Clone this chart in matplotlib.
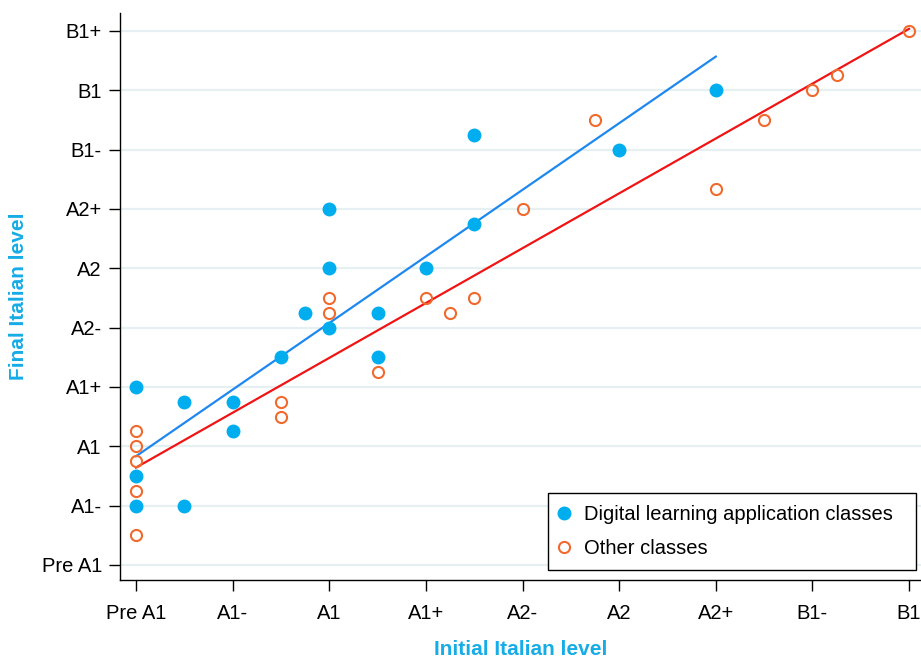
import matplotlib
matplotlib.use("Agg")
import matplotlib.pyplot as plt
import numpy as np

plt.rcParams.update({
    "font.family": ["Liberation Sans", "DejaVu Sans"],
    "font.size": 14,
})

LEVELS = ["Pre A1", "A1-", "A1", "A1+", "A2-", "A2", "A2+", "B1-", "B1", "B1+"]

# Digital learning application classes (initial level, final level)
app_init = [0, 0, 0, 0.5, 0.5, 1, 1, 1.5, 1.75, 2, 2, 2, 2.5, 2.5, 3, 3.5, 3.5, 5, 6]
app_final = [3, 1.5, 1, 2.75, 1, 2.75, 2.25, 3.5, 4.25, 6, 5, 4, 4.25, 3.5, 5, 7.25, 5.75, 7, 8]

# Other classes
oth_init = [0, 0, 0, 0, 0, 1.5, 1.5, 2, 2, 2.5, 3, 3.25, 3.5, 4, 4.75, 6, 6.5, 7, 7.25, 8]
oth_final = [2.25, 2, 1.75, 1.25, 0.5, 2.75, 2.5, 4.5, 4.25, 3.25, 4.5, 4.25, 4.5, 6,
             7.5, 6.33, 7.5, 8, 8.25, 9]

BLUE = "#00AEEF"
ORANGE = "#F0692D"
LABEL = "#16ACE6"

fig = plt.figure(figsize=(9.21, 6.59), dpi=100)
ax = fig.add_axes([0.1303, 0.1199, 0.8697, 0.8604])

for y in range(len(LEVELS)):
    ax.axhline(y, color="#e6eff2", lw=1.6, zorder=0)

# linear fits over each group's range
for xs, ys, col in [(app_init, app_final, "#1E88F0"), (oth_init, oth_final, "#F01414")]:
    b, a = np.polyfit(xs, ys, 1)
    xx = np.array([min(xs), max(xs)])
    ax.plot(xx, a + b * xx, color=col, lw=1.6, zorder=2)

ax.plot(app_init, app_final, "o", ms=9, color=BLUE, mec=BLUE, ls="none", zorder=3,
        label="Digital learning application classes")
ax.plot(oth_init, oth_final, "o", ms=8, mfc="none", mec=ORANGE, mew=1.5, ls="none",
        zorder=3, label="Other classes")

ax.set_xlim(-0.1656, 8.124)
ax.set_ylim(-0.253, 9.303)
ax.set_xticks(range(9))
ax.set_xticklabels(LEVELS[:9])
ax.set_yticks(range(10))
ax.set_yticklabels(LEVELS)
ax.tick_params(length=8, width=1, labelsize=14.5)
ax.tick_params(axis="x", pad=9)
ax.tick_params(axis="y", pad=5)
for s in ["top", "right"]:
    ax.spines[s].set_visible(False)
for s in ["left", "bottom"]:
    ax.spines[s].set_linewidth(1)

ax.set_xlabel("Initial Italian level", color=LABEL, fontweight="bold", fontsize=15)
ax.set_ylabel("Final Italian level", color=LABEL, fontweight="bold", fontsize=15)
ax.xaxis.set_label_coords(0.5, -0.106)
ax.yaxis.set_label_coords(-0.115, 0.5)

leg = ax.legend(loc="lower left", bbox_to_anchor=(0.5343, 0.0176, 0.4594, 0.14),
                mode="expand", borderaxespad=0,
                frameon=True, fancybox=False, framealpha=1, edgecolor="black",
                fontsize=14.5, handletextpad=0.85, handlelength=0.35, borderpad=0.6,
                labelspacing=0.75)
leg.get_frame().set_linewidth(1)

fig.savefig("out.png", dpi=100)
